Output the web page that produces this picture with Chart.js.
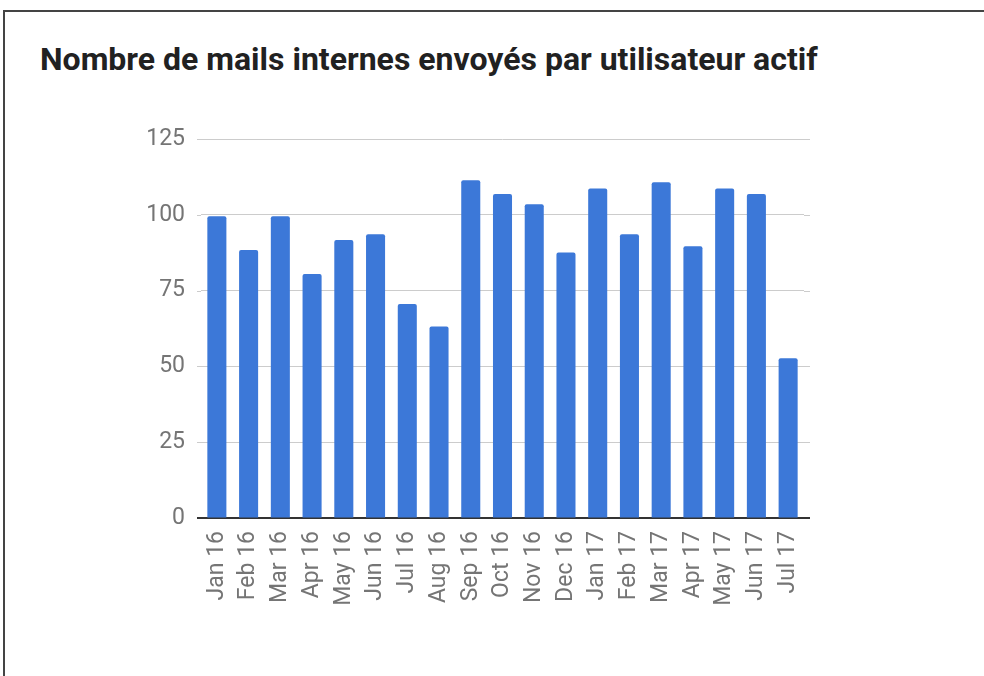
<!DOCTYPE html>
<html>
<head>
<meta charset="utf-8">
<script src="https://cdn.jsdelivr.net/npm/chart.js@4.4.0/dist/chart.umd.min.js"></script>
<style>
    html, body { margin: 0; padding: 0; background: #fff; }
    #frame {
        position: absolute;
        left: 3px;
        top: 10px;
        width: 1000px;
        height: 700px;
        border-top: 2px solid #444;
        border-left: 2px solid #444;
    }
    #titre {
        position: absolute;
        left: 40px;
        top: 40px;
        font-family: Roboto, sans-serif;
        font-weight: bold;
        font-size: 32px;
        color: #212121;
        white-space: nowrap;
    }
    #wrap { position: absolute; left: 0; top: 0; width: 984px; height: 676px; }
</style>
</head>
<body>
<div id="frame"></div>
<div id="titre">Nombre de mails internes envoyés par utilisateur actif</div>
<div id="wrap"><canvas id="Graf1"></canvas></div>
<script>
const mois = [
    "Jan 16", "Feb 16", "Mar 16", "Apr 16", "May 16", "Jun 16", "Jul 16",
    "Aug 16", "Sep 16", "Oct 16", "Nov 16", "Dec 16",
    "Jan 17", "Feb 17", "Mar 17", "Apr 17", "May 17", "Jun 17", "Jul 17",
];
const mails = [99.5, 88.4, 99.5, 80.5, 91.7, 93.6, 70.6, 63.2, 111.4, 106.9, 103.5, 87.6,
    108.7, 93.6, 110.7, 89.6, 108.7, 106.9, 52.7];
const yTicks = [0, 25, 50, 75, 100, 125];

const canva1 = document.getElementById('Graf1').getContext('2d');

// les lignes de grille dépassent un peu la zone des barres (comme Google Sheets)
const prolongeGrille = {
    id: 'prolongeGrille',
    afterDraw(chart) {
        const ctx = chart.ctx;
        const area = chart.chartArea;
        const y = chart.scales.y;
        ctx.save();
        y.ticks.forEach(t => {
            const py = Math.round(y.getPixelForValue(t.value)) + 0.5;
            const zero = t.value === 0;
            ctx.strokeStyle = zero ? '#333' : '#cccccc';
            ctx.lineWidth = zero ? 2 : 1;
            ctx.beginPath();
            ctx.moveTo(area.left - 4, zero ? py - 0.5 : py);
            ctx.lineTo(area.left, zero ? py - 0.5 : py);
            ctx.moveTo(area.right, zero ? py - 0.5 : py);
            ctx.lineTo(area.right + 6, zero ? py - 0.5 : py);
            ctx.stroke();
        });
        ctx.restore();
    }
};

let chartOne = new Chart(canva1, {
    type: 'bar',
    data: {
        labels: mois,
        datasets: [
            {
                label: 'Mails',
                data: mails,
                backgroundColor: '#3c78d8',
                borderWidth: 0,
                borderRadius: 2,
                borderSkipped: 'bottom',
                categoryPercentage: 1,
                barPercentage: 0.6,
            },
        ],
    },
    options: {
        responsive: true,
        maintainAspectRatio: false,
        animation: false,
        layout: {
            padding: { left: 40, right: 180, top: 139, bottom: 0 }
        },
        plugins: {
            legend: { display: false },
            tooltip: { enabled: false },
        },
        scales: {
            x: {
                grid: { display: false, drawTicks: false },
                border: { display: true, color: '#333', width: 2 },
                ticks: {
                    minRotation: 90,
                    maxRotation: 90,
                    padding: 13,
                    color: '#757575',
                    font: { family: 'Roboto', size: 23 },
                },
                afterFit: function (scale) { scale.height = 158; },
            },
            y: {
                min: 0,
                max: 125,
                afterBuildTicks: function (scale) {
                    scale.ticks = yTicks.map(v => ({ value: v }));
                },
                grid: { color: '#cccccc', lineWidth: 1, drawTicks: false },
                border: { display: false },
                ticks: {
                    padding: 16,
                    color: '#757575',
                    font: { family: 'Roboto', size: 23 },
                },
                afterFit: function (scale) { scale.width = 161; },
            },
        },
    },
    plugins: [prolongeGrille],
});
</script>
</body>
</html>
